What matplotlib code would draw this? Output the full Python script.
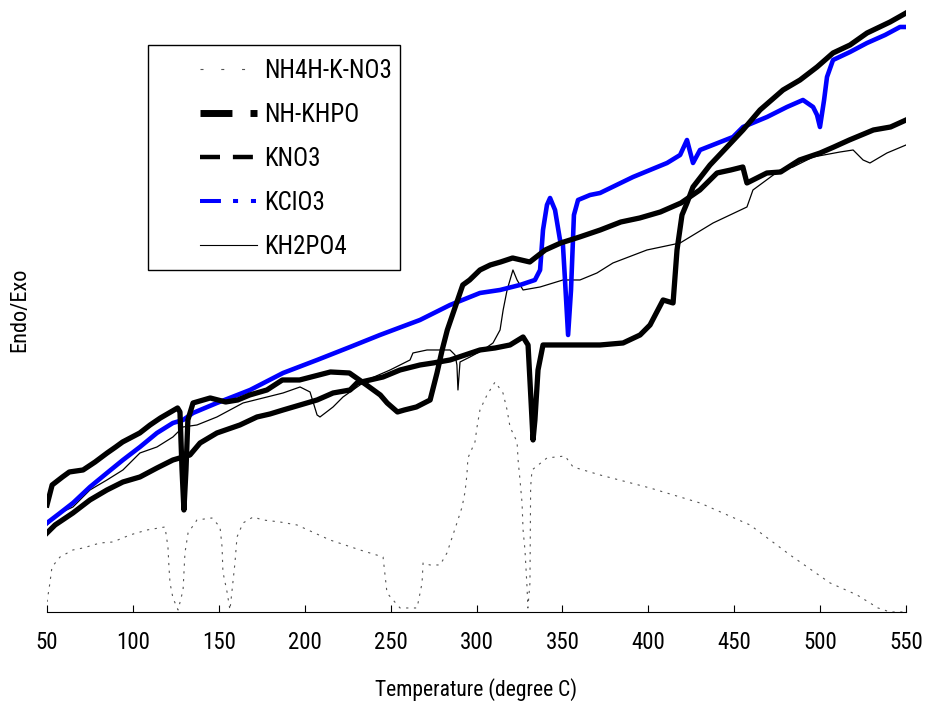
import matplotlib
matplotlib.use("Agg")
import matplotlib.pyplot as plt
from matplotlib.lines import Line2D
from matplotlib.patches import Rectangle

plt.rcParams['font.family'] = ['Liberation Sans Narrow', 'Roboto Condensed', 'Liberation Sans', 'DejaVu Sans']

# DSC traces, temperature (degree C) vs heat flow (arb. units)
nh4_t = [50, 51.7, 52.9, 57.6, 65.1, 71, 80.9, 88.4, 98.3, 108.2, 118.7, 120.4, 121, 121.6, 123.3,
         126.3, 129.2, 130.3, 132.1, 137.3, 146, 150.7, 151.9, 152.4, 154.8, 156.5, 159.4, 160.6,
         164.1, 170, 175.7, 185.6, 195.5, 214.7, 232.2, 245.6, 247.9, 251.4, 255.5, 265.4, 268.3,
         268.9, 272.9, 278.8, 282.8, 285.7, 288.6, 291.6, 293.3, 294.4, 295, 299.1, 300.3, 302,
         306.1, 310.8, 315.4, 317.8, 319.5, 323.6, 324.2, 325.3, 326.5, 327.1, 328.2, 329.4, 329.9,
         331.1, 331.5, 332.3, 341, 351.5, 356.2, 371.9, 401, 430.1, 459.2, 482.5, 505.8, 521.5,
         533.7, 540.7, 550]
nh4_y = [0.10, 0.29, 0.45, 0.55, 0.62, 0.64, 0.69, 0.70, 0.77, 0.82, 0.85, 0.65, 0.45, 0.29, 0.14,
         0.02, 0.22, 0.59, 0.79, 0.92, 0.94, 0.85, 0.65, 0.40, 0.20, 0.02, 0.49, 0.75,
         0.89, 0.95, 0.92, 0.90, 0.87, 0.72, 0.62, 0.55, 0.19, 0.12, 0.04, 0.04, 0.29,
         0.49, 0.47, 0.47, 0.59, 0.74, 0.89, 1.05, 1.20, 1.37, 1.54, 1.70, 1.85, 2.02,
         2.17, 2.30, 2.19, 2.02, 1.85, 1.70, 1.52, 1.32, 1.09, 0.82, 0.62, 0.25, 0.04,
         0.29, 1.25, 1.42, 1.54, 1.56, 1.45, 1.37, 1.24, 1.09, 0.87, 0.57, 0.29, 0.17,
         0.04, 0.0, 0.0]

nhkhpo_t = [50, 53, 59, 63, 71, 78, 85, 90, 94, 104, 110, 116, 122, 126, 127.4, 128.6, 129.7, 130.9,
            132, 135, 145, 154, 161, 168, 178, 187, 197, 206, 215, 226, 236, 244, 248, 254, 258,
            265, 273, 277, 280, 283, 288, 292, 296, 302, 308, 314, 321, 331, 340, 349, 360, 372,
            384, 395, 407, 419, 430, 440, 448, 455, 457.4, 469, 477, 488, 500, 508, 517, 531, 541, 550]
nhkhpo_y = [1.07, 1.27, 1.35, 1.40, 1.42, 1.50, 1.59, 1.65, 1.70, 1.79, 1.87, 1.94, 2.00, 2.04, 2.00,
            1.42, 1.02, 1.42, 1.92, 2.09, 2.14, 2.10, 2.12, 2.17, 2.22, 2.32, 2.32, 2.36, 2.40, 2.39,
            2.27, 2.17, 2.09, 2.00, 2.02, 2.05, 2.12, 2.39, 2.62, 2.82, 3.07, 3.27, 3.32, 3.42, 3.47,
            3.50, 3.54, 3.50, 3.62, 3.69, 3.75, 3.82, 3.90, 3.94, 4.00, 4.09, 4.22, 4.39, 4.42, 4.45,
            4.29, 4.39, 4.40, 4.52, 4.59, 4.65, 4.72, 4.82, 4.85, 4.92]

kno3_t = [50, 54.7, 65.1, 75, 84.9, 94.2, 104.1, 114, 123.3, 133.2, 139.1, 148.9, 162.3, 172.2,
          179.8, 187.4, 197.3, 207.2, 216.5, 226.4, 230.4, 245.6, 255.5, 267.1, 274.7, 284.6,
          293.3, 302, 310.8, 319.5, 327.1, 330, 331.7, 332.9, 334, 335.8, 338.7, 348.6, 360.2,
          371.9, 385.3, 395.2, 401, 408.6, 414.4, 416.7, 419.6, 422.5, 426, 435.9, 445.8, 455.1,
          465, 478.4, 488.3, 498.2, 507.5, 517.4, 527.3, 540.7, 550]
kno3_y = [0.79, 0.87, 0.99, 1.12, 1.22, 1.30, 1.35, 1.44, 1.52, 1.57, 1.69, 1.79, 1.87, 1.95,
          1.98, 2.02, 2.07, 2.12, 2.19, 2.22, 2.29, 2.35, 2.42, 2.47, 2.49, 2.52,
          2.57, 2.62, 2.64, 2.67, 2.75, 2.67, 2.12, 1.72, 1.92, 2.42, 2.67, 2.67, 2.67,
          2.67, 2.69, 2.77, 2.87, 3.12, 3.09, 3.62, 3.97, 4.09, 4.25, 4.47, 4.65, 4.82,
          5.02, 5.22, 5.32, 5.45, 5.59, 5.67, 5.79, 5.90, 5.99]

kclo3_t = [50, 57.6, 65.1, 75, 84.9, 94.2, 104.1, 114, 123.3, 129.2, 135, 148.9, 168.2, 187.4,
           207.2, 226.4, 243.8, 267.1, 284.6, 302, 313.7, 325.3, 334, 337, 338.7, 341, 342.8,
           345.7, 348.6, 350.3, 351.5, 353.3, 355, 356.7, 359.1, 366.1, 371.9, 391.1, 410.9,
           418.5, 422.5, 426, 430.1, 449.3, 455.1, 469.1, 480.7, 490, 495.9, 498.2, 499.9,
           502.3, 504, 507.5, 517.4, 527.3, 537.8, 546.5, 550]
kclo3_y = [0.89, 0.99, 1.09, 1.25, 1.39, 1.52, 1.65, 1.79, 1.89, 1.92, 1.99, 2.09, 2.22, 2.39,
           2.52, 2.65, 2.77, 2.92, 3.07, 3.19, 3.22, 3.27, 3.32, 3.42, 3.82, 4.07, 4.14,
           4.02, 3.72, 3.67, 3.32, 2.77, 3.22, 3.97, 4.12, 4.17, 4.19, 4.35, 4.49,
           4.57, 4.72, 4.49, 4.62, 4.75, 4.85, 4.95, 5.05, 5.12, 5.05, 4.97, 4.85,
           5.12, 5.35, 5.52, 5.60, 5.69, 5.77, 5.85, 5.85]

kh2po4_t = [50, 57.6, 65.1, 75, 84.9, 94.2, 104.1, 114, 123.3, 129.2, 137.3, 148.9, 164.1, 178.1,
            187.4, 197.3, 203.1, 207.2, 208.9, 216.5, 222.3, 236.3, 249.7, 261.3, 263, 271.2,
            277, 284.6, 287.5, 288.6, 289.2, 290.4, 296.2, 303.8, 309.6, 313.7, 315.5, 317.8,
            321.2, 323.6, 327.1, 337, 350.3, 360.2, 370.1, 379.4, 399.2, 418.5, 437.7, 457.4,
            460.9, 476.7, 484.2, 495.9, 511.6, 519.2, 522.1, 525, 529, 538.9, 550]
kh2po4_y = [0.87, 0.99, 1.05, 1.22, 1.32, 1.42, 1.59, 1.65, 1.75, 1.85, 1.87, 1.95, 2.09, 2.15,
            2.19, 2.25, 2.20, 1.97, 1.95, 2.05, 2.15, 2.32, 2.42, 2.52, 2.59, 2.62,
            2.62, 2.62, 2.57, 2.47, 2.22, 2.50, 2.55, 2.62, 2.69, 2.82, 3.02, 3.22,
            3.42, 3.32, 3.22, 3.25, 3.32, 3.32, 3.39, 3.49, 3.62, 3.69, 3.89, 4.05,
            4.22, 4.42, 4.45, 4.55, 4.60, 4.62, 4.57, 4.52, 4.49, 4.59, 4.67]

labels = ['NH4H-K-NO3', 'NH-KHPO', 'KNO3', 'KClO3', 'KH2PO4']
x_ticks = [50, 100, 150, 200, 250, 300, 350, 400, 450, 500, 550]

fig = plt.figure(figsize=(9.25, 7.01), dpi=100)
ax = fig.add_axes([0.0508, 0.127, 0.9287, 0.8616])

ax.plot(nh4_t, nh4_y, color='#555555', lw=0.8, linestyle=(0, (2, 5)))
ax.plot(kh2po4_t, kh2po4_y, color='black', lw=0.9)
ax.plot(kclo3_t, kclo3_y, color='#0000ff', lw=3.3)
ax.plot(nhkhpo_t, nhkhpo_y, color='black', lw=3.8)
ax.plot(kno3_t, kno3_y, color='black', lw=3.8)

ax.set_xlim(50, 550)
ax.set_ylim(0, 6.04)
ax.set_xticks(x_ticks)
ax.set_yticks([])
ax.tick_params(axis='x', direction='in', length=5, width=0.8, pad=14, labelsize=16.5)
for s in ['left', 'top', 'right']:
    ax.spines[s].set_visible(False)
ax.spines['bottom'].set_linewidth(0.8)

ax.set_xlabel('Temperature (degree C)', fontsize=15.5, labelpad=17)
ax.set_ylabel('Endo/Exo', fontsize=16, labelpad=12)

# legend box drawn separately so the handles can sit well inside it
ax.add_patch(Rectangle((0.1176, 0.5662), 0.2934, 0.3725, transform=ax.transAxes,
                       facecolor='white', edgecolor='black', lw=1.0, zorder=4))

# legend proxies keep the line styles of each trace
handles = [
    Line2D([], [], color='#555555', lw=0.8, linestyle=(0, (2.7, 16))),
    Line2D([], [], color='black', lw=5.0, linestyle=(0, (4.6, 2.6, 1.3, 2.6))),
    Line2D([], [], color='black', lw=3.2, linestyle=(0, (4.5, 2.9))),
    Line2D([], [], color='#0000ff', lw=2.9, linestyle=(0, (5.2, 3.0, 1.25, 3.2, 1.25, 3.2))),
    Line2D([], [], color='black', lw=0.8),
]
leg = ax.legend(handles, labels, loc='upper left', bbox_to_anchor=(0.178, 0.9156),
                fontsize=18, handlelength=2.28, handletextpad=0.28, labelspacing=0.8,
                borderpad=0, borderaxespad=0, frameon=False)
leg.set_zorder(5)

fig.savefig('out.png', dpi=100)
